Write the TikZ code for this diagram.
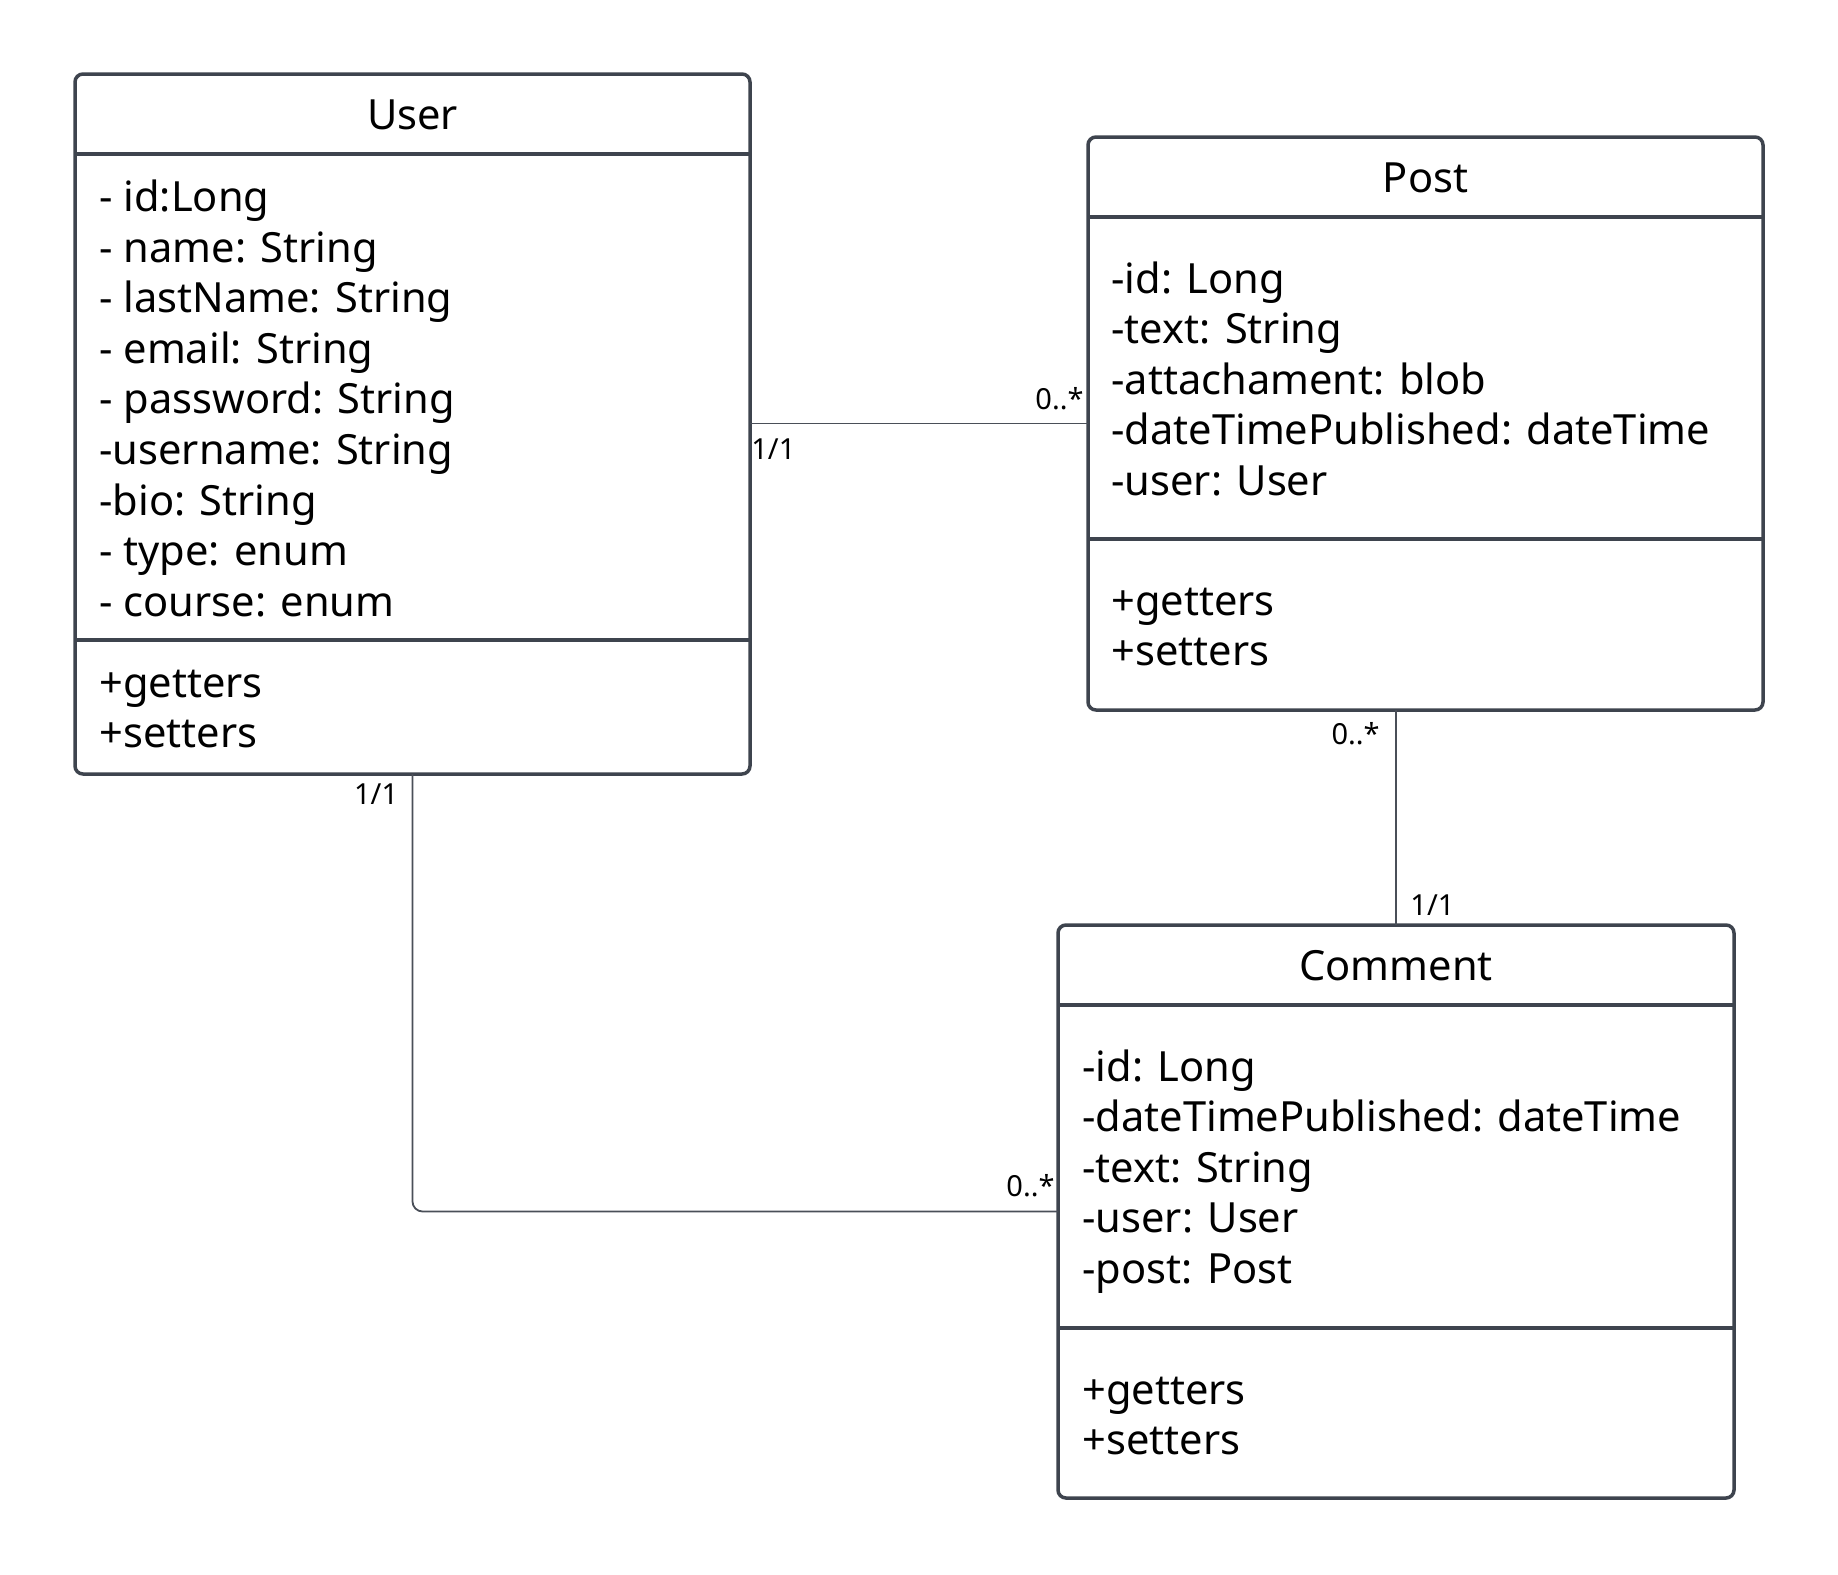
\documentclass[tikz,border=0pt]{standalone}
\usepackage{fontspec}
\setmainfont{Noto Sans}
\usetikzlibrary{calc}
\definecolor{edge}{HTML}{3E444E}
\definecolor{wire}{HTML}{4A4F58}
\begin{document}
\begin{tikzpicture}[x=0.5pt,y=-0.5pt,
  classbox/.style={draw=edge, line width=1.75pt, rounded corners=4pt, fill=white,
    inner sep=0pt, outer sep=0pt},
  sepline/.style={draw=edge, line width=1.75pt},
  conn/.style={draw=wire, line width=0.9pt},
  title/.style={anchor=base, inner sep=0pt, font=\fontsize{20.8pt}{24pt}\selectfont},
  attr/.style={anchor=base west, inner sep=0pt, font=\fontsize{20.8pt}{24pt}\selectfont},
  mult/.style={inner sep=0pt, font=\fontsize{14.5pt}{17pt}\selectfont}]
\fill[white] (0,0) rectangle (1838,1575);
\useasboundingbox (0,0) rectangle (1838,1575);

% class boxes
\node[classbox, minimum width=337.5pt, minimum height=350pt] (user) at (412.5,424) {};
\node[classbox, minimum width=337.5pt, minimum height=286.5pt] (post) at (1425.5,423.5) {};
\node[classbox, minimum width=338pt, minimum height=286.5pt] (comment) at (1396,1211.5) {};

% compartment separators
\draw[sepline] (user.west |- 0,154) -- (user.east |- 0,154);
\draw[sepline] (user.west |- 0,640) -- (user.east |- 0,640);
\draw[sepline] (post.west |- 0,217) -- (post.east |- 0,217);
\draw[sepline] (post.west |- 0,539) -- (post.east |- 0,539);
\draw[sepline] (comment.west |- 0,1005) -- (comment.east |- 0,1005);
\draw[sepline] (comment.west |- 0,1328) -- (comment.east |- 0,1328);

% titles
\node[title] (user-title) at (412.5,129.5) {User};
\node[title] (post-title) at (1425.5,192) {Post};
\node[title] (comment-title) at (1396,980) {Comment};

% User
\foreach [count=\i] \t in {{- id:Long},{- name: String},{- lastName: String},{- email: String},
  {- password: String},{-username: String},{-bio: String},{- type: enum},{- course: enum}}
  \node[attr] (user-a\i) at (99,{211.5+50.6*(\i-1)}) {\t};
\foreach [count=\i] \t in {{+getters},{+setters}}
  \node[attr] (user-m\i) at (99,{697+50.6*(\i-1)}) {\t};

% Post
\foreach [count=\i] \t in {{-id: Long},{-text: String},{-attachament: blob},
  {-dateTimePublished: dateTime},{-user: User}}
  \node[attr] (post-a\i) at (1111,{293+50.6*(\i-1)}) {\t};
\foreach [count=\i] \t in {{+getters},{+setters}}
  \node[attr] (post-m\i) at (1111,{615+50.6*(\i-1)}) {\t};

% Comment
\foreach [count=\i] \t in {{-id: Long},{-dateTimePublished: dateTime},{-text: String},
  {-user: User},{-post: Post}}
  \node[attr] (comment-a\i) at (1082,{1081+50.6*(\i-1)}) {\t};
\foreach [count=\i] \t in {{+getters},{+setters}}
  \node[attr] (comment-m\i) at (1082,{1404+50.6*(\i-1)}) {\t};

% associations
\coordinate (up) at (post.west -| user.east);
\coordinate (pc) at (post.south -| comment.north);
\draw[conn] (up) -- (post.west);
\draw[conn] (pc) -- (comment.north);
\draw[conn, rounded corners=5pt] (user.south) |- (comment.west);

% multiplicities
\node[mult, anchor=north west] (m-up-user) at ($(up)+(1,15)$) {1/1};
\node[mult, anchor=south east] (m-up-post) at ($(post.west)+(-4,-13)$) {0..*};
\node[mult, anchor=north east] (m-pc-post) at ($(pc)+(-16,12)$) {0..*};
\node[mult, anchor=south west] (m-pc-comment) at ($(comment.north)+(14,-9)$) {1/1};
\node[mult, anchor=north east] (m-uc-user) at ($(user.south)+(-14,9)$) {1/1};
\node[mult, anchor=south east] (m-uc-comment) at ($(comment.west)+(-3,-14)$) {0..*};
\end{tikzpicture}
\end{document}
